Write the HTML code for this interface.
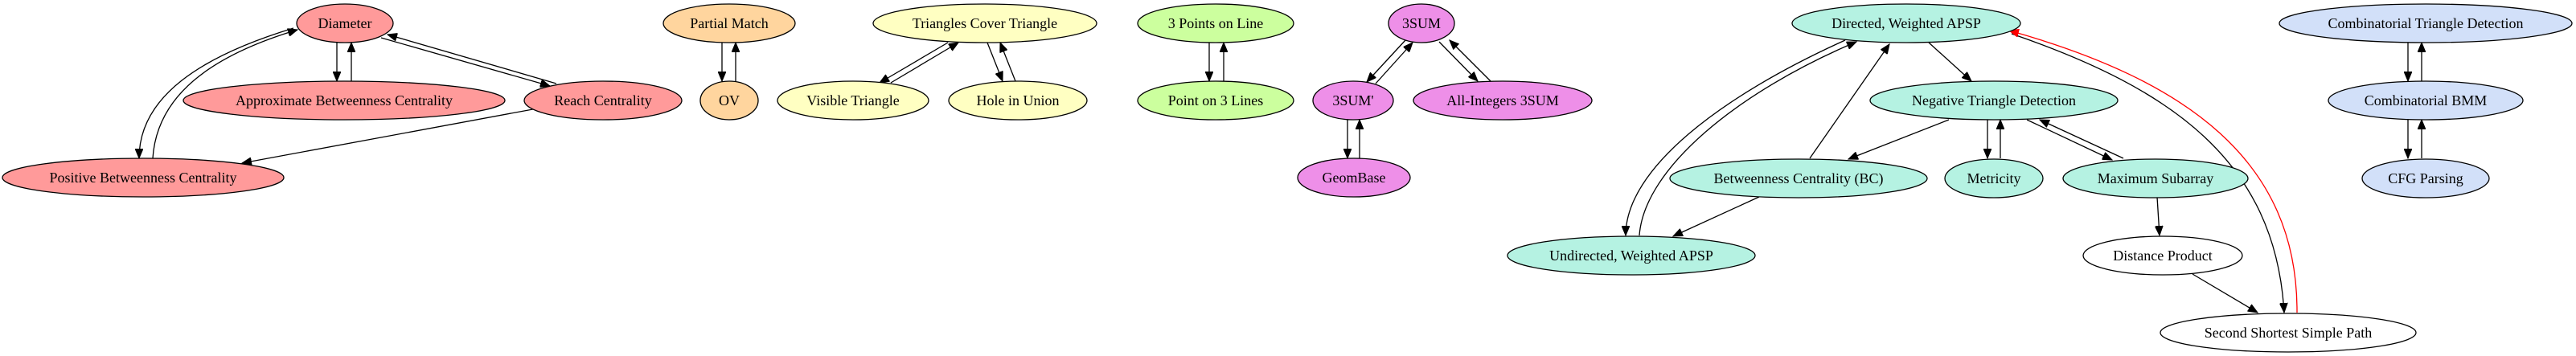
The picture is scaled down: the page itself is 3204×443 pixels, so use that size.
<!DOCTYPE html>
<html><head><meta charset="utf-8"><style>
html,body{margin:0;padding:0;background:#fff;}
svg{display:block;}
text{font-family:"Liberation Serif",serif;font-size:18px;text-anchor:middle;dominant-baseline:central;fill:#000;}
ellipse{stroke:#000;stroke-width:1.3;}
path{fill:none;stroke:#000;stroke-width:1.3;}
</style></head><body>
<svg width="3204" height="443" viewBox="0 0 3204 443" xmlns="http://www.w3.org/2000/svg">
<defs>
<marker id="a" markerUnits="userSpaceOnUse" markerWidth="14" markerHeight="10" refX="12" refY="5" orient="auto"><path d="M0,0 L12,5 L0,10 Z" style="fill:#000;stroke:#000;stroke-width:1"/></marker>
<marker id="r" markerUnits="userSpaceOnUse" markerWidth="14" markerHeight="10" refX="12" refY="5" orient="auto"><path d="M0,0 L12,5 L0,10 Z" style="fill:#f00;stroke:#f00;stroke-width:1"/></marker>
</defs>

<!-- edges -->
<g marker-end="url(#a)">
<path d="M419,53 L419,101"/>
<path d="M437,101 L437,53"/>
<path d="M474,47 L684,107"/>
<path d="M692,104 L482,43"/>
<path d="M365,35 C250,70 173,120 173,197"/>
<path d="M190,197 C195,120 260,70 370,37"/>
<path d="M679,133 L301,203"/>

<path d="M898,53 L898,101"/>
<path d="M915,101 L915,53"/>
<path d="M1179,53 L1094,103"/>
<path d="M1108,103 L1192,53"/>
<path d="M1228,53 L1247,101"/>
<path d="M1263,101 L1244,53"/>

<path d="M1504,53 L1504,101"/>
<path d="M1522,101 L1522,53"/>
<path d="M1748,50 L1700,102"/>
<path d="M1711,104 L1757,53"/>
<path d="M1790,52 L1838,101"/>
<path d="M1854,101 L1803,50"/>
<path d="M1676,149 L1676,197"/>
<path d="M1691,197 L1691,149"/>

<path d="M2295,50 C2140,120 2022,210 2022,293"/>
<path d="M2039,293 C2045,210 2160,115 2309,52"/>
<path d="M2251,197 L2350,55"/>
<path d="M2399,53 L2452,101"/>
<path d="M2424,149 L2299,198"/>
<path d="M2472,149 L2472,197"/>
<path d="M2488,197 L2488,149"/>
<path d="M2521,149 L2627,199"/>
<path d="M2641,197 L2537,149"/>
<path d="M2188,245 L2081,294"/>
<path d="M2683,245 L2686,293"/>
<path d="M2727,341 L2808,389"/>
<path d="M2502,42 C2700,110 2830,200 2841,389"/>
<path d="M2995,53 L2995,101"/>
<path d="M3012,101 L3012,53"/>
<path d="M2995,149 L2995,197"/>
<path d="M3012,197 L3012,149"/>
</g>
<path d="M2857,389 C2858,200 2720,100 2499,38" style="stroke:#f00" marker-end="url(#r)"/>

<!-- nodes -->
<g style="fill:#ff9a9a">
<ellipse cx="429" cy="29" rx="60" ry="24" fill="#ff9a9a"/>
<ellipse cx="428" cy="125" rx="200" ry="24" fill="#ff9a9a"/>
<ellipse cx="750" cy="125" rx="98" ry="24" fill="#ff9a9a"/>
<ellipse cx="178" cy="221" rx="175" ry="24" fill="#ff9a9a"/>
</g>
<ellipse cx="907" cy="29" rx="82" ry="24" fill="#ffd59e"/>
<ellipse cx="907" cy="125" rx="36" ry="24" fill="#ffd59e"/>
<ellipse cx="1225" cy="29" rx="139" ry="24" fill="#ffffc2"/>
<ellipse cx="1061" cy="125" rx="94" ry="24" fill="#ffffc2"/>
<ellipse cx="1266" cy="125" rx="86" ry="24" fill="#ffffc2"/>
<ellipse cx="1512" cy="29" rx="97" ry="24" fill="#ccff9e"/>
<ellipse cx="1512" cy="125" rx="97" ry="24" fill="#ccff9e"/>
<ellipse cx="1768" cy="29" rx="41" ry="24" fill="#ee8fe8"/>
<ellipse cx="1683" cy="125" rx="50" ry="24" fill="#ee8fe8"/>
<ellipse cx="1869" cy="125" rx="111" ry="24" fill="#ee8fe8"/>
<ellipse cx="1684" cy="221" rx="70" ry="24" fill="#ee8fe8"/>
<ellipse cx="2371" cy="29" rx="142" ry="24" fill="#b5f2e2"/>
<ellipse cx="2480" cy="125" rx="154" ry="24" fill="#b5f2e2"/>
<ellipse cx="2237" cy="222" rx="160" ry="24" fill="#b5f2e2"/>
<ellipse cx="2480" cy="222" rx="61" ry="24" fill="#b5f2e2"/>
<ellipse cx="2681" cy="222" rx="115" ry="24" fill="#b5f2e2"/>
<ellipse cx="2029" cy="318" rx="154" ry="24" fill="#b5f2e2"/>
<ellipse cx="2690" cy="318" rx="99" ry="24" fill="#fff"/>
<ellipse cx="2846" cy="414" rx="159" ry="24" fill="#fff"/>
<ellipse cx="3017" cy="29" rx="182" ry="24" fill="#d2e0f9"/>
<ellipse cx="3017" cy="125" rx="121" ry="24" fill="#d2e0f9"/>
<ellipse cx="3017" cy="222" rx="79" ry="24" fill="#d2e0f9"/>

<text x="429" y="29">Diameter</text>
<text x="428" y="125">Approximate Betweenness Centrality</text>
<text x="750" y="125">Reach Centrality</text>
<text x="178" y="221">Positive Betweenness Centrality</text>
<text x="907" y="29">Partial Match</text>
<text x="907" y="125">OV</text>
<text x="1225" y="29">Triangles Cover Triangle</text>
<text x="1061" y="125">Visible Triangle</text>
<text x="1266" y="125">Hole in Union</text>
<text x="1512" y="29">3 Points on Line</text>
<text x="1512" y="125">Point on 3 Lines</text>
<text x="1768" y="29">3SUM</text>
<text x="1683" y="125">3SUM'</text>
<text x="1869" y="125">All-Integers 3SUM</text>
<text x="1684" y="221">GeomBase</text>
<text x="2371" y="29">Directed, Weighted APSP</text>
<text x="2480" y="125">Negative Triangle Detection</text>
<text x="2237" y="222">Betweenness Centrality (BC)</text>
<text x="2480" y="222">Metricity</text>
<text x="2681" y="222">Maximum Subarray</text>
<text x="2029" y="318">Undirected, Weighted APSP</text>
<text x="2690" y="318">Distance Product</text>
<text x="2846" y="414">Second Shortest Simple Path</text>
<text x="3017" y="29">Combinatorial Triangle Detection</text>
<text x="3017" y="125">Combinatorial BMM</text>
<text x="3017" y="222">CFG Parsing</text>
</svg>
</body></html>
